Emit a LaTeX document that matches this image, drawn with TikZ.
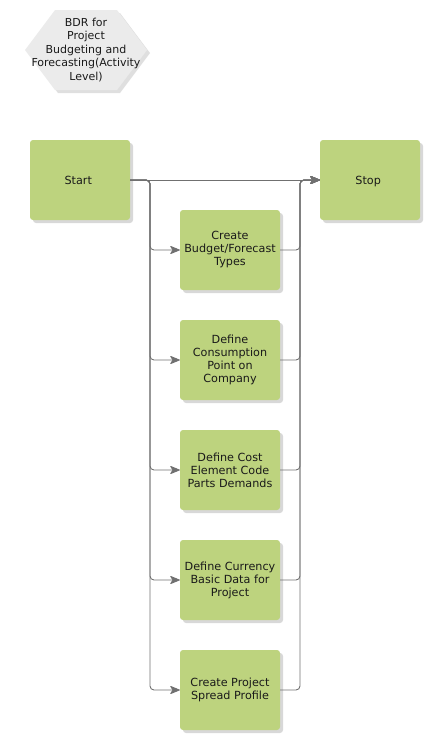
\documentclass[tikz,border=0pt]{standalone}
\usepackage{fontspec}
\setmainfont{DejaVu Sans}
\usetikzlibrary{arrows.meta,shadows}

\definecolor{taskgreen}{HTML}{BDD37E}
\definecolor{linegray}{HTML}{707070}
\definecolor{hexgray}{HTML}{EBEBEB}
\definecolor{textdark}{HTML}{1A1A1A}

\tikzset{
  task/.style={fill=taskgreen, rounded corners=3pt, minimum width=100pt,
    minimum height=80pt, align=center, text=textdark,
    font=\fontsize{11.2}{13}\selectfont,
    drop shadow={shadow xshift=3pt, shadow yshift=-3pt, fill=black!30}},
  conn/.style={draw=linegray, line width=0.9pt, rounded corners=4pt},
  arr/.style={-{Stealth[length=11pt,width=9pt,inset=3pt,round=false]}}
}

\begin{document}
\begin{tikzpicture}[x=1pt,y=-1pt]
  \useasboundingbox (0,0) rectangle (430,740);

  % title hexagon
  \fill[hexgray, drop shadow={shadow xshift=3pt, shadow yshift=-3pt, fill=black!25}]
    (25,50) -- (55,10) -- (117,10) -- (147,50) -- (117,90) -- (55,90) -- cycle;
  \node[align=center, text=textdark, font=\fontsize{11}{13.5}\selectfont] (title) at (86,50)
    { BDR for\\Project\\Budgeting and\\Forecasting(Activity\\Level) };

  \node[task] (start) at (80,180) { Start };
  \node[task, text depth=0pt] (stop) at (370,180) { Stop };

  \node[task] (budget) at (230,250) { Create\\Budget/Forecast\\Types };
  \node[task] (consume) at (230,360) { Define\\Consumption\\Point on\\Company };
  \node[task] (costel) at (230,470) { Define Cost\\Element Code\\Parts Demands };
  \node[task] (currency) at (230,580) { Define Currency\\Basic Data for\\Project };
  \node[task] (spread) at (230,690) { Create Project\\Spread Profile };

  \coordinate (lbus) at (150,180);
  \coordinate (rbus) at (300,180);

  \draw[conn, arr] (start.east) -- (stop.west);

  \draw[conn, arr] (start.east) -- (lbus) |- (budget.west);
  \draw[conn, arr] (start.east) -- (lbus) |- (consume.west);
  \draw[conn, arr] (start.east) -- (lbus) |- (costel.west);
  \draw[conn, arr] (start.east) -- (lbus) |- (currency.west);
  \draw[conn, arr] (start.east) -- (lbus) |- (spread.west);

  \draw[conn, arr] (budget.east) -| (rbus) -- (stop.west);
  \draw[conn, arr] (consume.east) -| (rbus) -- (stop.west);
  \draw[conn, arr] (costel.east) -| (rbus) -- (stop.west);
  \draw[conn, arr] (currency.east) -| (rbus) -- (stop.west);
  \draw[conn, arr] (spread.east) -| (rbus) -- (stop.west);
\end{tikzpicture}
\end{document}
